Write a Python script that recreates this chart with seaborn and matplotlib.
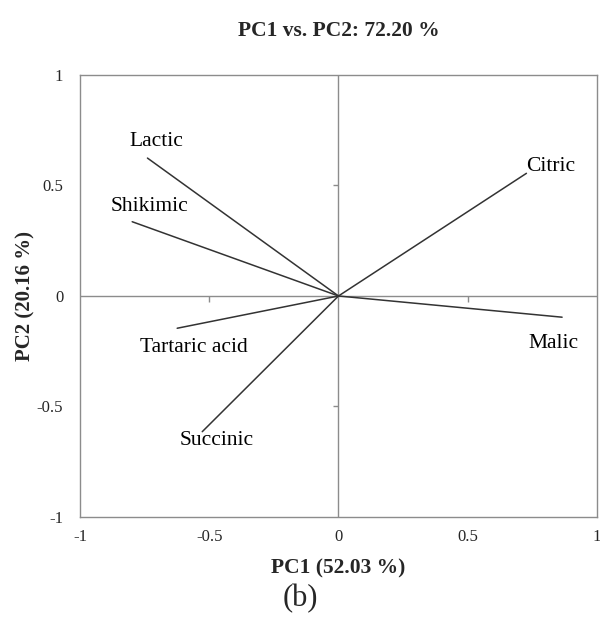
import matplotlib
matplotlib.use('Agg')
import matplotlib.pyplot as plt
import pandas as pd
import seaborn as sns

# Loadings
acids = ['Lactic', 'Shikimic', 'Tartaric acid', 'Succinic', 'Citric', 'Malic']
pc1 = [-0.739, -0.798, -0.624, -0.527, 0.727, 0.865]
pc2 = [0.624, 0.336, -0.146, -0.614, 0.555, -0.096]
label_x = [-0.704, -0.731, -0.561, -0.472, 0.820, 0.831]
label_y = [0.701, 0.403, -0.235, -0.656, 0.588, -0.213]
ticks = [-1, -0.5, 0, 0.5, 1]
tick_labels = ['-1', '-0.5', '0', '0.5', '1']

# each vector goes from the origin to its loading
rows = []
for a, x, y in zip(acids, pc1, pc2):
    rows.append({'acid': a, 'pc1': 0.0, 'pc2': 0.0})
    rows.append({'acid': a, 'pc1': x, 'pc2': y})
df = pd.DataFrame(rows)

sns.set_style('white')
plt.rcParams['font.family'] = ['Liberation Serif', 'DejaVu Serif']

fig = plt.figure(figsize=(6, 6.37), dpi=100)
ax = fig.add_axes([0.1333, 0.1884, 0.8617, 0.6939])

grey = '#8c8c8c'
ax.axhline(0, color=grey, lw=1, zorder=1)
ax.axvline(0, color=grey, lw=1, zorder=1)
# small tick marks on the zero lines
ax.vlines([-0.5, 0.5], -0.025, 0, color=grey, lw=1, zorder=1)
ax.hlines([-0.5, 0.5], -0.022, 0, color=grey, lw=1, zorder=1)

sns.lineplot(data=df, x='pc1', y='pc2', units='acid', estimator=None,
             sort=False, color='#333333', lw=1.1, ax=ax, zorder=2)

for name, x, y in zip(acids, label_x, label_y):
    ax.text(x, y, name, ha='center', va='center', fontsize=15.5, color='black')

ax.set_xlim(-1, 1)
ax.set_ylim(-1, 1)
ax.set_xticks(ticks)
ax.set_xticklabels(tick_labels)
ax.set_yticks(ticks)
ax.set_yticklabels(tick_labels)
ax.tick_params(length=0, labelsize=12, pad=9)
ax.tick_params(axis='y', pad=12)
for s in ax.spines.values():
    s.set_color(grey)
    s.set_linewidth(1)

ax.set_xlabel('PC1 (52.03 %)', fontsize=15.5, fontweight='bold', labelpad=9)
ax.set_ylabel('PC2 (20.16 %)', fontsize=15, fontweight='bold', labelpad=1)
ax.set_title('PC1 vs. PC2: 72.20 %', fontsize=15.5, fontweight='bold', pad=28)

fig.text(0.5, 0.06, '(b)', ha='center', va='center', fontsize=22)

fig.savefig('out.png', dpi=100)
